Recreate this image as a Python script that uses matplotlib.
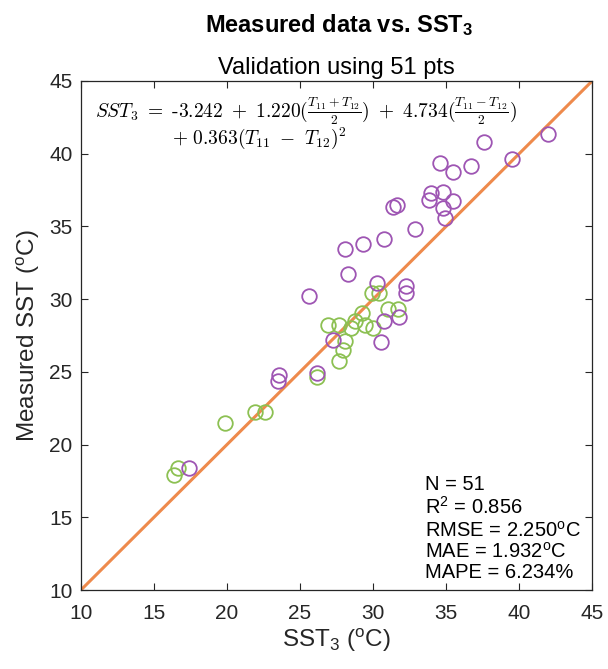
import matplotlib
matplotlib.use("Agg")
import matplotlib.pyplot as plt

plt.rcParams['font.family'] = ['Liberation Sans', 'DejaVu Sans']
plt.rcParams['mathtext.fontset'] = 'custom'
plt.rcParams['mathtext.rm'] = 'Liberation Sans'
plt.rcParams['mathtext.it'] = 'Liberation Sans:italic'
plt.rcParams['mathtext.bf'] = 'Liberation Sans:bold'

# purple group: SST3 estimate vs measured SST
sst3_purple = [42.00, 37.62, 39.50, 34.59, 35.45, 36.71, 33.97, 33.81, 34.79, 35.45,
               34.77, 34.90, 31.39, 31.66, 32.88, 30.75, 29.34, 28.10, 28.31, 30.25,
               32.26, 32.26, 25.64, 30.77, 31.78, 27.23, 30.52, 23.56, 23.51, 26.18,
               17.40]
meas_purple = [41.33, 40.83, 39.64, 39.34, 38.77, 39.15, 37.28, 36.82, 37.39, 36.77,
               36.25, 35.61, 36.30, 36.48, 34.82, 34.13, 33.79, 33.45, 31.73, 31.09,
               30.93, 30.41, 30.25, 28.52, 28.78, 27.19, 27.03, 24.78, 24.39, 24.90,
               18.37]

# green group
sst3_green = [29.92, 30.43, 29.25, 31.00, 31.73, 28.77, 26.92, 27.68, 28.48, 29.45,
              30.02, 28.05, 27.92, 27.67, 26.18, 21.92, 22.60, 19.90, 16.66, 16.39]
meas_green = [30.41, 30.43, 29.07, 29.35, 29.32, 28.48, 28.22, 28.22, 28.05, 28.22,
              28.04, 27.15, 26.50, 25.74, 24.67, 22.26, 22.26, 21.46, 18.37, 17.91]

one_to_one = [10, 45]
ticks = [10, 15, 20, 25, 30, 35, 40, 45]

stats = ['N = 51', 'R$^2$ = 0.856', 'RMSE = 2.250$^{\\rm o}$C',
         'MAE = 1.932$^{\\rm o}$C', 'MAPE = 6.234%']

fig = plt.figure(figsize=(6.08, 6.69), dpi=100)
ax = fig.add_axes([0.133, 0.118, 0.841, 0.761])

purple = '#9E55B3'
green = '#8CC052'
orange = '#EE8A4C'

ax.plot(sst3_green, meas_green, 'o', mfc='none', mec=green, ms=10.5, mew=1.3, zorder=3)
ax.plot(sst3_purple, meas_purple, 'o', mfc='none', mec=purple, ms=10.5, mew=1.3, zorder=3)
ax.plot(one_to_one, one_to_one, '-', color=orange, lw=2.2, zorder=2)

ax.set_xlim(10, 45)
ax.set_ylim(10, 45)
ax.set_xticks(ticks)
ax.set_yticks(ticks)
ax.tick_params(direction='in', top=True, right=True, length=5, width=0.8,
               labelsize=15, colors='#262626')
ax.tick_params(axis='x', pad=10)
ax.tick_params(axis='y', pad=6)
for s in ax.spines.values():
    s.set_color('#262626')
    s.set_linewidth(0.9)

ax.set_xlabel('SST$_3$ ($^{\\rm o}$C)', fontsize=17.5, color='#262626', labelpad=3)
ax.set_ylabel('Measured SST ($^{\\rm o}$C)', fontsize=17.5, color='#262626', labelpad=5)
ax.set_title('Validation using 51 pts', fontsize=17, pad=5)
fig.text(0.557, 0.952, 'Measured data vs. SST$_\\mathbf{3}$', fontsize=17,
         fontweight='bold', ha='center', va='baseline')

# regression formula, two lines, TeX-like font
eq1 = (r'$SST_3\ =\ \mathrm{\text{-}}3.242\ +\ 1.220(\frac{T_{11}+T_{12}}{2})'
       r'\ +\ 4.734(\frac{T_{11}-T_{12}}{2})$')
eq2 = r'$+\ 0.363(T_{11}\ -\ T_{12})^2$'
ax.text(0.027, 0.929, eq1, transform=ax.transAxes, fontsize=14,
        math_fontfamily='cm', va='baseline')
ax.text(0.178, 0.876, eq2, transform=ax.transAxes, fontsize=14,
        math_fontfamily='cm', va='baseline')

ys = [0.196, 0.149, 0.104, 0.063, 0.024]
for s, y in zip(stats, ys):
    ax.text(0.673, y, s, transform=ax.transAxes, fontsize=14.5, va='baseline')

fig.savefig('out.png', dpi=100)
